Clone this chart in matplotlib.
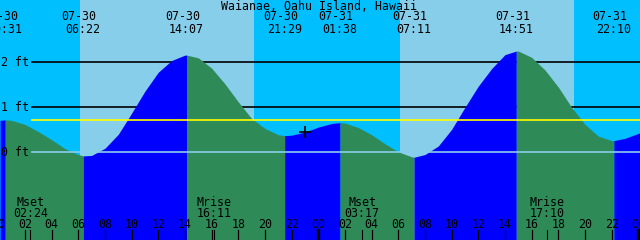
import numpy as np
import matplotlib
matplotlib.use("Agg")
import matplotlib.pyplot as plt
import matplotlib.transforms as mtransforms

# hours counted from 07-30 00:00
title = "Waianae, Oahu Island, Hawaii"

curve_t = [0.13, 0.52, 1, 2, 3, 4, 5, 6, 6.37, 7, 8, 9, 10, 11, 12, 13, 14, 14.12,
           15, 16, 17, 18, 19, 20, 21, 21.48, 22, 23, 24, 25, 25.63, 26, 27, 28,
           29, 30, 31, 31.18, 32, 33, 34, 35, 36, 37, 38, 38.85, 39, 40, 41, 42,
           43, 44, 45, 46, 46.17, 47, 48, 48.13]
curve_h = [0.71, 0.72, 0.71, 0.62, 0.46, 0.28, 0.08, -0.05, -0.08, -0.07, 0.09,
           0.40, 0.87, 1.36, 1.78, 2.04, 2.16, 2.16, 2.10, 1.87, 1.52, 1.12, 0.75,
           0.53, 0.39, 0.37, 0.38, 0.45, 0.56, 0.64, 0.66, 0.65, 0.55, 0.39, 0.19,
           0.01, -0.10, -0.11, -0.05, 0.14, 0.51, 1.00, 1.47, 1.86, 2.17, 2.25,
           2.25, 2.11, 1.83, 1.45, 1.00, 0.62, 0.36, 0.26, 0.26, 0.31, 0.42, 0.44]

event_t = [0.52, 6.37, 14.12, 21.48, 25.63, 31.18, 38.85, 46.17]
event_date = ["07-30", "07-30", "07-30", "07-30", "07-31", "07-31", "07-31", "07-31"]
event_time = ["00:31", "06:22", "14:07", "21:29", "01:38", "07:11", "14:51", "22:10"]

sunrise = [6.13, 30.13]
sunset = [19.18, 43.16]

moon_t = [2.40, 16.18, 27.28, 41.17]
moon_name = ["Mset", "Mrise", "Mset", "Mrise"]
moon_time = ["02:24", "16:11", "03:17", "17:10"]

now_t, now_h = 23.0, 0.45
mean_level = 0.71
ft_levels = [2, 1, 0]

day_col = "#87CEEB"
night_col = "#00BFFF"
rise_col = "#0000FF"
fall_col = "#2E8B57"

W, H = 640, 240
px_per_h = 40 / 3.0
x0 = -1.7
t_min = (0 - x0) / px_per_h
t_max = (W - x0) / px_per_h
zero_y, px_per_ft = 152.3, 45.0
h_top = zero_y / px_per_ft
h_bot = (zero_y - H) / px_per_ft

fig = plt.figure(figsize=(6.4, 2.4), dpi=100)
ax = fig.add_axes([0, 0, 1, 1])
ax.set_xlim(t_min, t_max)
ax.set_ylim(h_bot, h_top)
ax.axis("off")

def ypx(y):
    return 1 - y / H

blend = mtransforms.blended_transform_factory(ax.transData, ax.transAxes)
fs = 8.4
fam = "DejaVu Sans Mono"

# sky
ax.axvspan(t_min, t_max, color=night_col, zorder=0, lw=0)
for a, b in zip(sunrise, sunset):
    ax.axvspan(a, b, color=day_col, zorder=0.5, lw=0)

# height lines behind water
grid_start = t_min + 32 / px_per_h
for lv in [2, 1]:
    ax.plot([grid_start, t_max], [lv, lv], color="black", lw=1.2, zorder=1)

# water, blue while rising, green while falling
ct = np.array(curve_t)
ch = np.array(curve_h)
bounds = [0] + event_t + [49]
rising = True
for a, b in zip(bounds[:-1], bounds[1:]):
    m = (ct >= a - 1e-6) & (ct <= b + 1e-6)
    ax.fill_between(ct[m], h_bot, ch[m], color=rise_col if rising else fall_col,
                    lw=0, zorder=2)
    rising = not rising

ax.plot([grid_start, t_max], [mean_level, mean_level], color="#FFFF00", lw=1.2, zorder=3)
ax.plot([grid_start, t_max], [0, 0], color=day_col, lw=1.2, zorder=3)

for lv in ft_levels:
    ax.text(t_min + 1 / px_per_h, lv, f"{lv} ft", fontsize=fs, family=fam,
            ha="left", va="center", zorder=4)

ax.plot([now_t], [now_h], marker="+", color="black", ms=9, mew=1.2, zorder=4)

# title and event labels
ax.text(0.498, ypx(6), title, transform=ax.transAxes, fontsize=fs, family=fam,
        ha="center", va="center", zorder=5)
for t, d, s in zip(event_t, event_date, event_time):
    ax.text(t - 4 / px_per_h, ypx(17), d, transform=blend, fontsize=fs,
            family=fam, ha="center", va="center", zorder=5)
    ax.text(t, ypx(29.5), s, transform=blend, fontsize=fs,
            family=fam, ha="center", va="center", zorder=5)

# moon events
for t, n, s in zip(moon_t, moon_name, moon_time):
    ax.text(t, ypx(202), n, transform=blend, fontsize=fs, family=fam,
            ha="center", va="center", zorder=5)
    ax.text(t, ypx(213.5), s, transform=blend, fontsize=fs, family=fam,
            ha="center", va="center", zorder=5)
    ax.plot([t, t], [0, ypx(230)], transform=blend, color="black", lw=0.8, zorder=5)

# hour ticks
for hr in range(0, 50, 2):
    ax.text(hr, ypx(225), f"{hr % 24:02d}", transform=blend, fontsize=fs,
            family=fam, ha="center", va="center", zorder=5)
    ax.plot([hr, hr], [0, ypx(230)], transform=blend, color="black",
            lw=2.4 if hr % 24 == 0 else 0.9, zorder=5)

fig.savefig("out.png", dpi=100)
